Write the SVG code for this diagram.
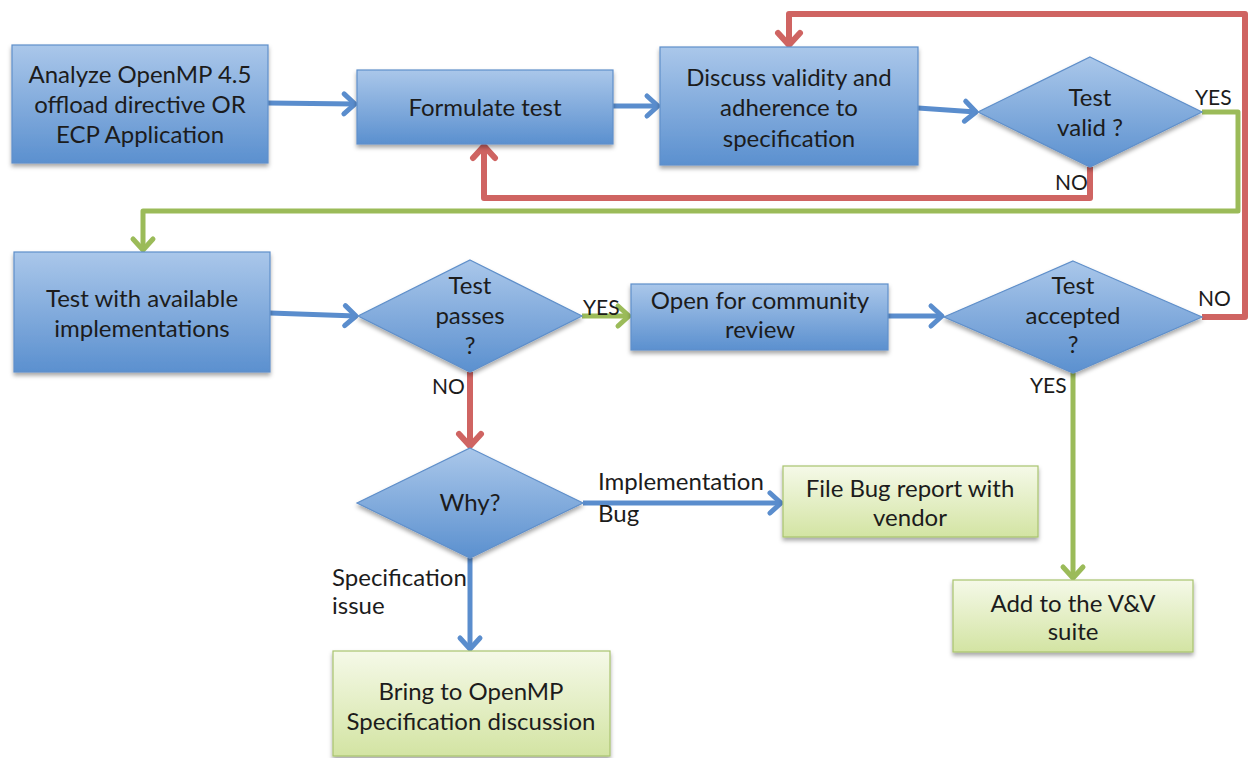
<svg xmlns="http://www.w3.org/2000/svg" width="1250" height="758" viewBox="0 0 1250 758">
  <defs>
    <linearGradient id="gBlue" x1="0" y1="0" x2="0" y2="1">
      <stop offset="0" stop-color="#aac7ea"/>
      <stop offset="1" stop-color="#5b90cf"/>
    </linearGradient>
    <linearGradient id="gGreen" x1="0" y1="0" x2="0" y2="1">
      <stop offset="0" stop-color="#f5f9e8"/>
      <stop offset="1" stop-color="#d3e4a3"/>
    </linearGradient>
    <filter id="shadow" x="-10%" y="-10%" width="120%" height="130%">
      <feDropShadow dx="0" dy="3" stdDeviation="2" flood-color="#000" flood-opacity="0.35"/>
    </filter>
    <marker id="aBlue" markerUnits="userSpaceOnUse" markerWidth="30" markerHeight="30" refX="0" refY="0" viewBox="-16 -15 20 30" orient="auto">
      <path d="M-11,-10 L0,0 L-11,10" fill="none" stroke="#5a8dcd" stroke-width="5" stroke-linecap="round" stroke-linejoin="round"/>
    </marker>
    <marker id="aRed" markerUnits="userSpaceOnUse" markerWidth="30" markerHeight="30" refX="0" refY="0" viewBox="-16 -15 20 30" orient="auto">
      <path d="M-12,-11 L0,0 L-12,11" fill="none" stroke="#cf6462" stroke-width="6" stroke-linecap="round" stroke-linejoin="round"/>
    </marker>
    <marker id="aGreen" markerUnits="userSpaceOnUse" markerWidth="30" markerHeight="30" refX="0" refY="0" viewBox="-16 -15 20 30" orient="auto">
      <path d="M-11,-10 L0,0 L-11,10" fill="none" stroke="#9bbb59" stroke-width="5" stroke-linecap="round" stroke-linejoin="round"/>
    </marker>
  </defs>
  <style>
    .blue { fill: url(#gBlue); stroke: #5f8fca; stroke-width: 1.2; filter: url(#shadow); }
    .green { fill: url(#gGreen); stroke: #a8c46e; stroke-width: 1.2; filter: url(#shadow); }
    .t { font-family: Lato, "Liberation Sans", sans-serif; font-size: 24px; fill: #1c1c1c; text-anchor: middle; }
    .lbl { font-family: Lato, "Liberation Sans", sans-serif; font-size: 21px; fill: #1c1c1c; }
    .lbl2 { font-family: Lato, "Liberation Sans", sans-serif; font-size: 24px; fill: #1c1c1c; }
    .cb { fill: none; stroke: #5a8dcd; stroke-width: 5; stroke-linejoin: round; marker-end: url(#aBlue); }
    .cr { fill: none; stroke: #cf6462; stroke-width: 6; stroke-linejoin: round; marker-end: url(#aRed); }
    .cg { fill: none; stroke: #9bbb59; stroke-width: 5; stroke-linejoin: round; marker-end: url(#aGreen); }
  </style>
  <rect width="1250" height="758" fill="#ffffff"/>

  <!-- connectors -->
  <g id="connectors">
    <path class="cb" d="M268,103 L355,104"/>
    <path class="cb" d="M613,106 L658,106"/>
    <path class="cb" d="M918,108 L976,112"/>
    <path class="cr" d="M1090,167 V198 H484 V146"/>
    <path class="cg" d="M1202,112 H1238 V211 H143 V250"/>
    <path class="cb" d="M270,313 L356,316"/>
    <path class="cg" d="M582,316 L629,316"/>
    <path class="cb" d="M888,316 L942,316"/>
    <path class="cr" d="M1202,317 H1245 V14 H789 V45"/>
    <path class="cg" d="M1073,373 V578"/>
    <path class="cr" d="M470,372 V446"/>
    <path class="cb" d="M583,503 L781,503"/>
    <path class="cb" d="M470,558 V649"/>
  </g>

  <!-- connector labels -->
  <g id="labels">
    <text class="lbl" x="1195" y="105">YES</text>
    <text class="lbl" x="1055" y="190">NO</text>
    <text class="lbl" x="583" y="315">YES</text>
    <text class="lbl" x="1198" y="306">NO</text>
    <text class="lbl" x="432" y="394">NO</text>
    <text class="lbl" x="1030" y="393">YES</text>
    <text class="lbl2" x="598" y="490">Implementation</text>
    <text class="lbl2" x="598" y="522">Bug</text>
    <text class="lbl2" x="332" y="586">Specification</text>
    <text class="lbl2" x="332" y="614">issue</text>
  </g>

  <g id="analyze">
    <rect class="blue" x="12" y="45" width="256" height="118"/>
    <text class="t" x="140" y="83">Analyze OpenMP 4.5</text>
    <text class="t" x="140" y="113">offload directive OR</text>
    <text class="t" x="140" y="143">ECP Application</text>
  </g>
  <g id="formulate">
    <rect class="blue" x="357" y="70" width="256" height="74"/>
    <text class="t" x="485" y="116">Formulate test</text>
  </g>
  <g id="discuss">
    <rect class="blue" x="660" y="47" width="258" height="118"/>
    <text class="t" x="789" y="86">Discuss validity and</text>
    <text class="t" x="789" y="116">adherence to</text>
    <text class="t" x="789" y="147">specification</text>
  </g>
  <g id="valid">
    <polygon class="blue" points="1090,57 1202,112 1090,167 978,112"/>
    <text class="t" x="1090" y="106">Test</text>
    <text class="t" x="1090" y="136">valid ?</text>
  </g>
  <g id="test-impl">
    <rect class="blue" x="14" y="252" width="256" height="120"/>
    <text class="t" x="142" y="307">Test with available</text>
    <text class="t" x="142" y="337">implementations</text>
  </g>
  <g id="passes">
    <polygon class="blue" points="470,260 582,316 470,372 358,316"/>
    <text class="t" x="470" y="294">Test</text>
    <text class="t" x="470" y="324">passes</text>
    <text class="t" x="470" y="354">?</text>
  </g>
  <g id="review">
    <rect class="blue" x="631" y="284" width="257" height="66"/>
    <text class="t" x="760" y="309">Open for community</text>
    <text class="t" x="760" y="338">review</text>
  </g>
  <g id="accepted">
    <polygon class="blue" points="1073,261 1202,317 1073,373 944,317"/>
    <text class="t" x="1073" y="294">Test</text>
    <text class="t" x="1073" y="324">accepted</text>
    <text class="t" x="1073" y="353">?</text>
  </g>
  <g id="why">
    <polygon class="blue" points="470,448 583,503 470,558 357,503"/>
    <text class="t" x="470" y="511">Why?</text>
  </g>
  <g id="bug-report">
    <rect class="green" x="783" y="466" width="255" height="71"/>
    <text class="t" x="910" y="497">File Bug report with</text>
    <text class="t" x="910" y="526">vendor</text>
  </g>
  <g id="suite">
    <rect class="green" x="953" y="580" width="240" height="72"/>
    <text class="t" x="1073" y="612">Add to the V&amp;V</text>
    <text class="t" x="1073" y="640">suite</text>
  </g>
  <g id="spec-discussion">
    <rect class="green" x="333" y="651" width="277" height="105"/>
    <text class="t" x="471" y="700">Bring to OpenMP</text>
    <text class="t" x="471" y="730">Specification discussion</text>
  </g>
</svg>
